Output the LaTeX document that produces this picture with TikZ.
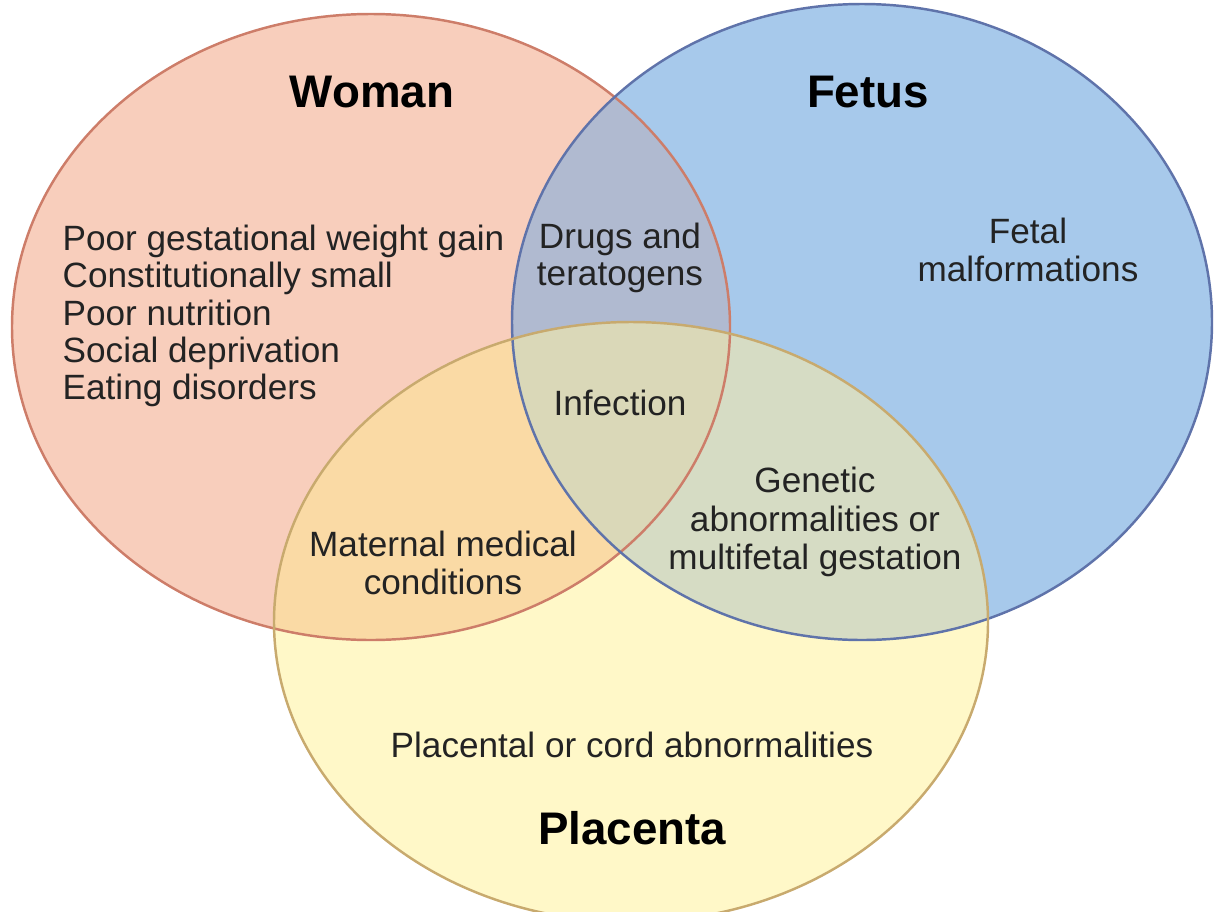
\documentclass[tikz,border=0pt]{standalone}
\usepackage{fontspec}
\setmainfont{Liberation Sans}
\begin{document}
\begin{tikzpicture}[
    txt/.style={align=center, text=textgray, inner sep=0pt, font=\fontsize{10}{10.6}\selectfont},
    heading/.style={text=black, inner sep=0pt, font=\fontsize{13}{15}\selectfont\bfseries},
    rim/.style={line width=0.7pt}]
    \definecolor{womanfill}{RGB}{248, 206, 188}
    \definecolor{fetusfill}{RGB}{167, 201, 235}
    \definecolor{placentafill}{RGB}{255, 248, 200}
    \definecolor{wfmix}{RGB}{176, 186, 208}
    \definecolor{wpmix}{RGB}{250, 218, 165}
    \definecolor{fpmix}{RGB}{214, 220, 196}
    \definecolor{allmix}{RGB}{218, 216, 184}
    \definecolor{womanrim}{RGB}{205, 125, 105}
    \definecolor{fetusrim}{RGB}{95, 115, 170}
    \definecolor{placentarim}{RGB}{200, 170, 110}
    \definecolor{textgray}{RGB}{35, 35, 35}
    \useasboundingbox (0,0) rectangle (12.15,-9.12);
    \clip (0,0) rectangle (12.15,-9.12);
    \fill[womanfill] (3.71,-3.27) ellipse [x radius=3.59, y radius=3.13];
    \fill[fetusfill] (8.62,-3.22) ellipse [x radius=3.50, y radius=3.18];
    \fill[placentafill] (6.31,-6.22) ellipse [x radius=3.57, y radius=3.00];
    \begin{scope}
        \clip (3.71,-3.27) ellipse [x radius=3.59, y radius=3.13];
        \fill[wfmix] (8.62,-3.22) ellipse [x radius=3.50, y radius=3.18];
        \fill[wpmix] (6.31,-6.22) ellipse [x radius=3.57, y radius=3.00];
    \end{scope}
    \begin{scope}
        \clip (8.62,-3.22) ellipse [x radius=3.50, y radius=3.18];
        \fill[fpmix] (6.31,-6.22) ellipse [x radius=3.57, y radius=3.00];
        \clip (3.71,-3.27) ellipse [x radius=3.59, y radius=3.13];
        \fill[allmix] (6.31,-6.22) ellipse [x radius=3.57, y radius=3.00];
    \end{scope}
    \draw[rim, womanrim] (3.71,-3.27) ellipse [x radius=3.59, y radius=3.13];
    \draw[rim, fetusrim] (8.62,-3.22) ellipse [x radius=3.50, y radius=3.18];
    \draw[rim, placentarim] (6.31,-6.22) ellipse [x radius=3.57, y radius=3.00];
    \node[heading] (woman) at (3.72,-0.92) {Woman};
    \node[heading] (fetus) at (8.68,-0.92) {Fetus};
    \node[heading] (placenta) at (6.32,-8.28) {Placenta};
    \node[txt, align=left, anchor=west] (womanlist) at (0.62,-3.16)
        {Poor gestational weight gain\\Constitutionally small\\Poor nutrition\\Social deprivation\\Eating disorders};
    \node[txt] (drugs) at (6.20,-2.58) {Drugs and\\teratogens};
    \node[txt] (fetal) at (10.28,-2.50) {Fetal\\malformations};
    \node[txt] (infection) at (6.20,-4.03) {Infection};
    \node[txt, font=\fontsize{10}{11}\selectfont] (genetic) at (8.15,-5.22) {Genetic\\abnormalities or\\multifetal gestation};
    \node[txt] (maternal) at (4.43,-5.63) {Maternal medical\\conditions};
    \node[txt] (cord) at (6.32,-7.45) {Placental or cord abnormalities};
\end{tikzpicture}
\end{document}
